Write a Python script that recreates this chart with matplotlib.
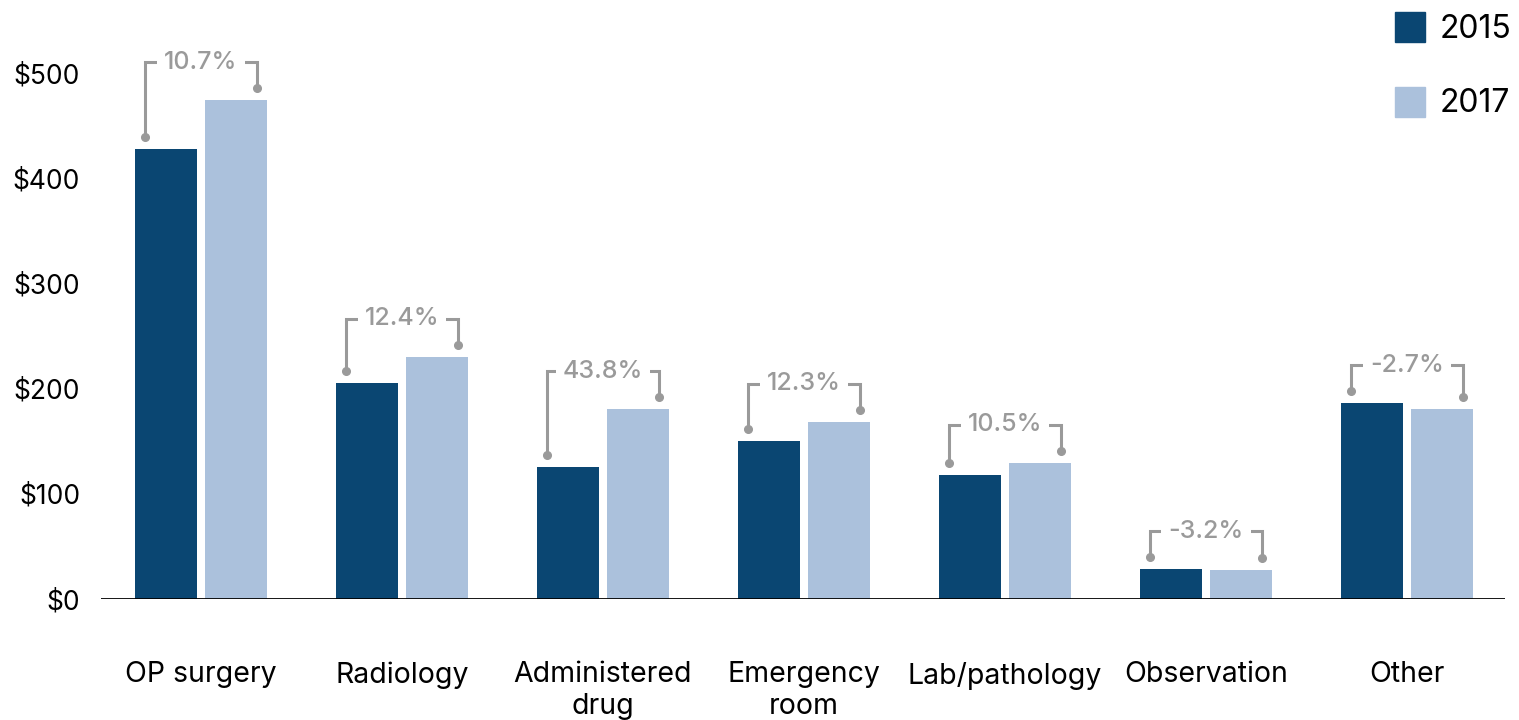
import matplotlib
matplotlib.use("Agg")
import matplotlib.pyplot as plt
from matplotlib.patches import Rectangle
import numpy as np

plt.rcParams['font.family'] = ['Inter', 'DejaVu Sans']

categories = ["OP surgery", "Radiology", "Administered\ndrug", "Emergency\nroom",
              "Lab/pathology", "Observation", "Other"]
series_names = ["2015", "2017"]
values_2015 = [428, 205, 125.5, 150, 117.5, 28.5, 186]
values_2017 = [474, 230.5, 180.5, 168.5, 129.5, 27.6, 181]
pct_labels = ["10.7%", "12.4%", "43.8%", "12.3%", "10.5%", "-3.2%", "-2.7%"]
yticks = [0, 100, 200, 300, 400, 500]
ytick_labels = ["$0", "$100", "$200", "$300", "$400", "$500"]

c15 = "#0a4672"
c17 = "#abc1dc"
gray = "#9a9a9a"

W, H = 1519, 720
fig = plt.figure(figsize=(W / 100, H / 100), dpi=100)
ax_left, ax_right, ax_bottom, ax_top = 101, 1505, 599, 0
ax = fig.add_axes([ax_left / W, (H - ax_bottom) / H, (ax_right - ax_left) / W, (ax_bottom - ax_top) / H])

px_per_unit = 526 / 500
ax.set_ylim(0, (ax_bottom - ax_top) / px_per_unit)
x = np.arange(len(categories))
ax.set_xlim(-0.4975, 6.4875)

bw = 0.313
off = 0.174
ax.bar(x - off, values_2015, width=bw, color=c15, zorder=2)
ax.bar(x + off, values_2017, width=bw, color=c17, zorder=2)

ax.axhline(0, color="black", lw=2, zorder=3)

for s in ax.spines.values():
    s.set_visible(False)

ax.set_xticks(x)
ax.set_xticklabels(categories, fontsize=20.5, linespacing=1.22, va="top")
ax.tick_params(axis="x", length=0, pad=45)
ax.set_yticks(yticks)
ax.set_yticklabels(ytick_labels, fontsize=19)
ax.tick_params(axis="y", length=0, pad=15)

# brackets
dot_off = 12 / px_per_unit
top_off = 26 / px_per_unit
inset = 10 / 201
for i in range(len(categories)):
    xl = x[i] - off - bw / 2 + inset
    xr = x[i] + off + bw / 2 - inset
    dl = values_2015[i] + dot_off
    dr = values_2017[i] + dot_off
    yt = max(dl, dr) + top_off
    ax.plot([xl, xl, xr, xr], [dl, yt, yt, dr], color=gray, lw=2.2, zorder=4,
            solid_joinstyle="miter", clip_on=False)
    ax.plot([xl, xr], [dl, dr], 'o', color=gray, ms=5.5, zorder=4, clip_on=False)
    ax.text(x[i], yt, pct_labels[i], ha="center", va="center", fontsize=18,
            color=gray, zorder=5, fontweight="medium",
            bbox=dict(boxstyle="square,pad=0.28", fc="white", ec="none"))

# legend
for j, (name, col) in enumerate(zip(series_names, [c15, c17])):
    y0 = 12 + j * 75
    fig.add_artist(Rectangle((1395 / W, (H - y0 - 30) / H), 30 / W, 30 / H,
                             transform=fig.transFigure, color=col))
    fig.text(1440 / W, (H - y0 - 17) / H, name, fontsize=23, va="center", ha="left")

fig.savefig("out.png", dpi=100)
